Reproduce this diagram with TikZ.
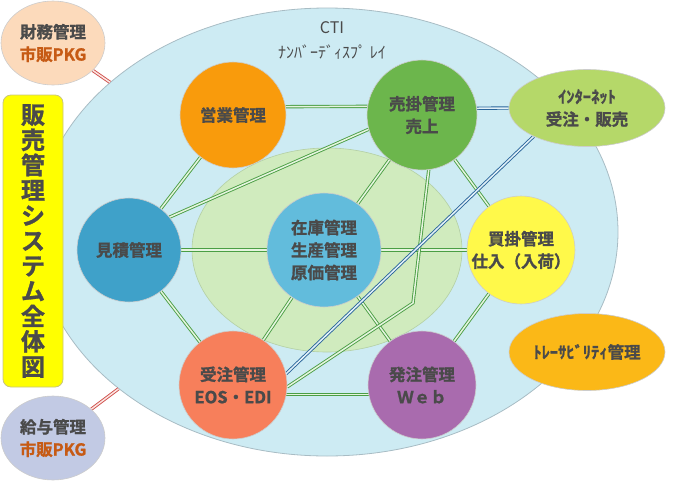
\documentclass[tikz,border=0pt]{standalone}
\usepackage{fontspec}
\newfontfamily\jp{Noto Sans CJK JP}
\newfontfamily\jpheavy{Noto Sans CJK JP Bold}[FakeBold=1.2]
\usetikzlibrary{shapes.geometric}
\pgfdeclarelayer{bg}
\pgfdeclarelayer{lines}
\pgfsetlayers{bg,lines,main}

\definecolor{ctiBlue}{HTML}{CDEBF3}
\definecolor{ctiEdge}{HTML}{A8BCC4}
\definecolor{innerGreen}{HTML}{D0EBBE}
\definecolor{innerEdge}{HTML}{B4CFA4}
\definecolor{zaikoC}{HTML}{62BCDC}
\definecolor{mitsuC}{HTML}{3FA1C9}
\definecolor{eigyoC}{HTML}{F99B0C}
\definecolor{urikakeC}{HTML}{6CB64C}
\definecolor{kaikakeC}{HTML}{FFF94A}
\definecolor{juchuC}{HTML}{F77F5B}
\definecolor{hatchuC}{HTML}{A96BAE}
\definecolor{inetC}{HTML}{B5D869}
\definecolor{traceC}{HTML}{FBB817}
\definecolor{zaimuC}{HTML}{FCDABB}
\definecolor{kyuyoC}{HTML}{C2CAE4}
\definecolor{titleC}{HTML}{FFFF00}
\definecolor{titleEdge}{HTML}{C9C57E}
\definecolor{txt}{HTML}{4A4A4A}
\definecolor{pkg}{HTML}{C65A14}
\definecolor{lnG}{HTML}{4A9E44}
\definecolor{lnB}{HTML}{2A659A}
\definecolor{lnR}{HTML}{D0504C}
\definecolor{gapG}{HTML}{E6F4DF}
\definecolor{gapB}{HTML}{E2F1F8}
\definecolor{gapR}{HTML}{FBE6E3}

\tikzset{
  lbl/.style={font=\jpheavy\fontsize{16.5}{22.5}\selectfont, text=txt, align=center, inner sep=0pt},
  unit/.style={circle, lbl, draw=black!20, line width=0.6pt},
  oval/.style={ellipse, lbl, draw=black!20, line width=0.6pt},
  connG/.style={draw=lnG, double=gapG, line width=0.9pt, double distance=1.5pt},
  connB/.style={draw=lnB, double=gapB, line width=0.9pt, double distance=1.5pt},
  connR/.style={draw=lnR, double=gapR, line width=0.9pt, double distance=1.5pt},
  ctitxt/.style={font=\jp\fontsize{16}{25}\selectfont, text=txt, align=center, inner sep=0pt},
  titlebox/.style={rectangle, rounded corners=8pt, fill=titleC, draw=titleEdge, line width=0.8pt,
    minimum width=60pt, minimum height=292pt, inner sep=0pt, align=center,
    font=\jpheavy\fontsize{24}{25.2}\selectfont, text=txt}
}

\begin{document}
\begin{tikzpicture}[x=1pt,y=-1pt]
\useasboundingbox (0,0) rectangle (681,491);

\begin{pgfonlayer}{bg}
  \node[ellipse, fill=ctiBlue, draw=ctiEdge, line width=0.8pt, inner sep=0pt,
        minimum width=582pt, minimum height=448pt] (cti) at (327,232) {};
  \node[ellipse, fill=innerGreen, draw=innerEdge, line width=0.6pt, inner sep=0pt,
        minimum width=270pt, minimum height=204pt] (core) at (327,250) {};
\end{pgfonlayer}

\node[ctitxt] (ctilabel) at (332,40) {CTI\\ﾅﾝﾊﾞｰﾃﾞｨｽﾌﾟ ﾚｲ};

\node[unit, fill=eigyoC, minimum size=106pt] (eigyo) at (233,115) {営業管理};
\node[unit, fill=urikakeC, minimum size=110pt] (urikake) at (422,115) {売掛管理\\売上};
\node[unit, fill=mitsuC, minimum size=104pt] (mitsumori) at (129,250) {見積管理};
\node[unit, fill=zaikoC, minimum size=114pt] (zaiko) at (324,250) {在庫管理\\生産管理\\原価管理};
\node[unit, fill=kaikakeC, minimum size=108pt] (kaikake) at (521,250) {買掛管理\\仕入（入荷）};
\node[unit, fill=juchuC, minimum size=108pt] (juchu) at (233,385) {受注管理\\EOS・EDI};
\node[unit, fill=hatchuC, minimum size=108pt] (hatchu) at (422,385) {発注管理\\Ｗｅｂ};

\node[oval, fill=inetC, minimum width=156pt, minimum height=77pt] (inet) at (587,108) {ｲﾝﾀｰﾈｯﾄ\\受注・販売};
\node[oval, fill=traceC, minimum width=156pt, minimum height=77pt] (trace) at (587,352) {ﾄﾚｰｻﾋﾞﾘﾃｨ管理};
\node[oval, fill=zaimuC, minimum width=104pt, minimum height=84pt] (zaimu) at (53,43) {財務管理\\{\color{pkg}市販PKG}};
\node[oval, fill=kyuyoC, minimum width=104pt, minimum height=84pt] (kyuyo) at (53,438) {給与管理\\{\color{pkg}市販PKG}};

\node[titlebox] (title) at (33,241) {販\\売\\管\\理\\シ\\ス\\テ\\ム\\全\\体\\図};

\begin{pgfonlayer}{lines}
  \draw[connG] (eigyo.9) -- (urikake.171);
  \draw[connG] (eigyo) -- (mitsumori);
  \draw[connG] (mitsumori.39) -- (urikake.195);
  \draw[connG] (mitsumori) -- (zaiko);
  \draw[connG] (zaiko) -- (kaikake);
  \draw[connG] (mitsumori) -- (juchu);
  \draw[connG] (zaiko) -- (juchu);
  \draw[connG] (zaiko) -- (urikake);
  \draw[connG] (zaiko) -- (hatchu);
  \draw[connG] (urikake) -- (kaikake);
  \draw[connG] (kaikake) -- (hatchu);
  \draw[connG] (juchu.-10) -- (hatchu.190);
  \coordinate (bend) at (413,303);
  \draw[connG] (juchu.-2) -- (bend) -- (urikake.-83);
  \draw[connB] (urikake.7) -- (inet.west);
  \draw[connB] (juchu.12) -- (inet.208);
  \draw[connR] (zaimu) -- (cti);
  \draw[connR] (kyuyo) -- (cti);
\end{pgfonlayer}
\end{tikzpicture}
\end{document}
